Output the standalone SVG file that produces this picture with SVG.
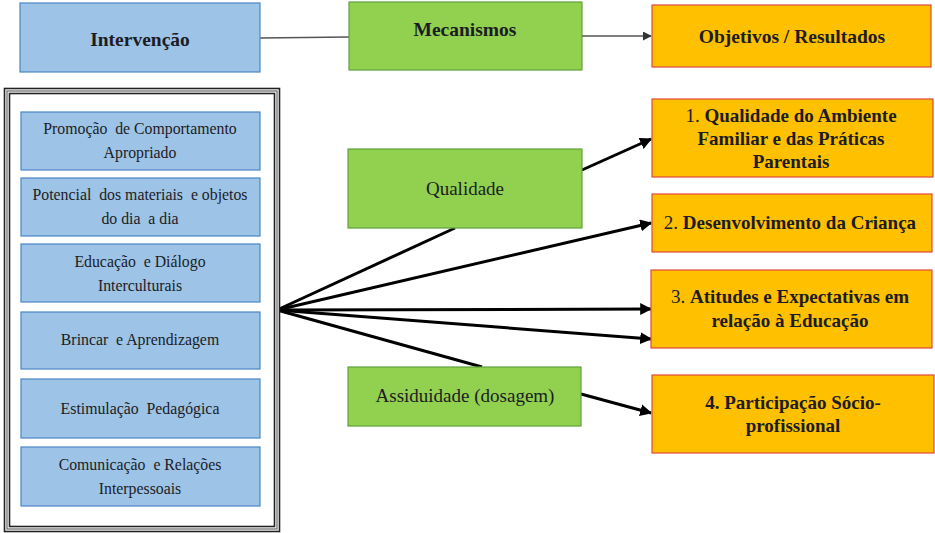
<svg xmlns="http://www.w3.org/2000/svg" width="935" height="533" viewBox="0 0 935 533">
<style>
.blue{fill:#9DC3E6;stroke:#4A86C5;stroke-width:1.2}
.green{fill:#92D050;stroke:#5FA33A;stroke-width:1.2}
.orange{fill:#FFC000;stroke:#E0483A;stroke-width:1.2}
text{font-family:"Liberation Serif","Times New Roman",serif;fill:#1c1c24;text-anchor:middle;white-space:pre}
.h{font-size:19.5px;font-weight:bold}
.s{font-size:15.8px}
.m{font-size:19px}
.o{font-size:19px;font-weight:bold}
.n{font-weight:normal}
.ln{stroke:#000;stroke-width:3;fill:none}
.thin{stroke:#555;stroke-width:1.5;fill:none}
</style>
<defs>
<marker id="ah" viewBox="0 0 10 10" refX="9" refY="5" markerWidth="4" markerHeight="4" orient="auto" markerUnits="strokeWidth">
<path d="M0,0 L10,5 L0,10 Z" fill="#000"/>
</marker>
<marker id="ah2" viewBox="0 0 10 10" refX="9" refY="5" markerWidth="6" markerHeight="6" orient="auto" markerUnits="strokeWidth">
<path d="M0,0 L10,5 L0,10 Z" fill="#333"/>
</marker>
</defs>
<rect width="935" height="533" fill="#fff"/>
<g id="connectors">
<line class="thin" x1="260" y1="38" x2="349" y2="37"/>
<line class="thin" x1="582" y1="36" x2="651" y2="36" marker-end="url(#ah2)"/>
<line class="ln" x1="277" y1="310" x2="455" y2="228"/>
<line class="ln" x1="582" y1="170" x2="651" y2="139" marker-end="url(#ah)"/>
<line class="ln" x1="277" y1="310" x2="651" y2="223" marker-end="url(#ah)"/>
<line class="ln" x1="277" y1="310" x2="651" y2="309" marker-end="url(#ah)"/>
<line class="ln" x1="277" y1="310" x2="651" y2="339" marker-end="url(#ah)"/>
<line class="ln" x1="277" y1="310" x2="482" y2="367"/>
<line class="ln" x1="581" y1="394" x2="651" y2="413" marker-end="url(#ah)"/>
</g>
<g id="intervencao">
<rect class="blue" x="20" y="3" width="240" height="69"/>
<text class="h" x="140" y="46">Intervenção</text>
</g>
<g id="mecanismos">
<rect class="green" x="349" y="2" width="233" height="68"/>
<text class="h" x="465" y="36">Mecanismos</text>
</g>
<g id="objetivos">
<rect class="orange" x="652" y="5" width="279" height="62"/>
<text class="h" x="792" y="43">Objetivos / Resultados</text>
</g>
<g id="frame">
<rect x="4.5" y="88.5" width="275" height="443" fill="#fff" stroke="#222" stroke-width="1.6"/>
<rect x="7" y="91" width="270" height="438" fill="none" stroke="#666" stroke-width="1.2"/>
<rect x="9.5" y="93.5" width="265" height="433" fill="none" stroke="#222" stroke-width="1.6"/>
</g>
<g id="b1">
<rect class="blue" x="21" y="112" width="239" height="58"/>
<text class="s" x="140" y="134">Promoção  de Comportamento</text>
<text class="s" x="140" y="158">Apropriado</text>
</g>
<g id="b2">
<rect class="blue" x="21" y="178" width="239" height="58"/>
<text class="s" x="140" y="200">Potencial  dos materiais  e objetos</text>
<text class="s" x="140" y="224">do dia  a dia</text>
</g>
<g id="b3">
<rect class="blue" x="21" y="244" width="239" height="58"/>
<text class="s" x="140" y="267">Educação  e Diálogo</text>
<text class="s" x="140" y="291">Interculturais</text>
</g>
<g id="b4">
<rect class="blue" x="21" y="312" width="239" height="57"/>
<text class="s" x="140" y="345">Brincar  e Aprendizagem</text>
</g>
<g id="b5">
<rect class="blue" x="21" y="379" width="239" height="59"/>
<text class="s" x="140" y="414">Estimulação  Pedagógica</text>
</g>
<g id="b6">
<rect class="blue" x="21" y="447" width="239" height="59"/>
<text class="s" x="140" y="470">Comunicação  e Relações</text>
<text class="s" x="140" y="494">Interpessoais</text>
</g>
<g id="qualidade">
<rect class="green" x="348" y="149" width="234" height="79"/>
<text class="m" x="465" y="195">Qualidade</text>
</g>
<g id="assiduidade">
<rect class="green" x="348" y="367" width="233" height="59"/>
<text class="m" x="465" y="402">Assiduidade (dosagem)</text>
</g>
<g id="r1">
<rect class="orange" x="652" y="99" width="281" height="78"/>
<text class="o" x="791" y="122"><tspan class="n">1. </tspan>Qualidade do Ambiente</text>
<text class="o" x="791" y="145">Familiar e das Práticas</text>
<text class="o" x="791" y="168">Parentais</text>
</g>
<g id="r2">
<rect class="orange" x="652" y="194" width="280" height="58"/>
<text class="o" x="790" y="229"><tspan class="n">2. </tspan>Desenvolvimento da Criança</text>
</g>
<g id="r3">
<rect class="orange" x="651" y="270" width="281" height="78"/>
<text class="o" x="790" y="303"><tspan class="n">3. </tspan>Atitudes e Expectativas em</text>
<text class="o" x="790" y="327">relação à Educação</text>
</g>
<g id="r4">
<rect class="orange" x="652" y="375" width="282" height="78"/>
<text class="o" x="793" y="409">4. Participação Sócio-</text>
<text class="o" x="793" y="432">profissional</text>
</g>
</svg>
